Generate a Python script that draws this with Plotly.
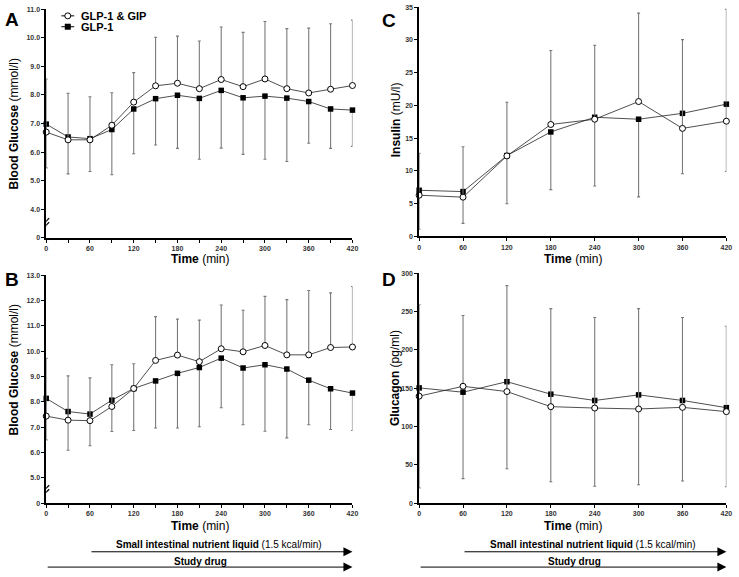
import plotly.graph_objects as go

# ---------------- data ----------------
t30 = [0, 30, 60, 90, 120, 150, 180, 210, 240, 270, 300, 330, 360, 390, 420]
t60 = [0, 60, 120, 180, 240, 300, 360, 420]

# Panel A: blood glucose (mmol/l)
A_gip = [6.70, 6.43, 6.43, 6.94, 7.75, 8.32, 8.41, 8.22, 8.54, 8.29, 8.56, 8.22, 8.07, 8.20, 8.33]
A_glp = [6.98, 6.53, 6.47, 6.79, 7.51, 7.87, 7.99, 7.88, 8.16, 7.90, 7.96, 7.89, 7.77, 7.51, 7.47]
A_upper = [8.56, 8.06, 7.94, 8.08, 8.78, 10.02, 10.06, 9.89, 10.38, 10.19, 10.57, 10.32, 10.34, 10.49, 10.62]
A_lower = [5.45, 5.24, 5.32, 5.21, 5.94, 6.25, 6.13, 5.75, 6.14, 5.92, 5.75, 5.67, 6.31, 6.13, 6.20]

# Panel B: blood glucose (mmol/l)
B_gip = [7.44, 7.28, 7.26, 7.82, 8.53, 9.64, 9.85, 9.59, 10.10, 9.98, 10.23, 9.86, 9.86, 10.15, 10.17]
B_glp = [8.14, 7.62, 7.52, 8.07, 8.53, 8.83, 9.13, 9.36, 9.73, 9.34, 9.47, 9.30, 8.86, 8.52, 8.35]
B_upper = [9.72, 9.03, 8.95, 9.47, 9.51, 11.37, 11.27, 11.23, 11.83, 11.62, 12.17, 12.04, 12.40, 12.31, 12.56]
B_lower = [6.50, 6.09, 6.27, 6.83, 6.87, 6.97, 6.97, 7.02, 7.77, 7.10, 6.84, 6.58, 7.10, 6.91, 6.87]

# Panel C: insulin (mU/l)
C_gip = [6.3, 6.0, 12.3, 17.1, 17.9, 20.6, 16.5, 17.6]
C_glp = [7.05, 6.85, 12.35, 15.96, 18.2, 17.9, 18.8, 20.2]
C_upper = [12.7, 13.7, 20.5, 28.4, 29.2, 34.1, 30.06, 34.7]
C_lower = [1.1, 2.0, 5.0, 7.15, 7.7, 6.04, 9.57, 9.92]

# Panel D: glucagon (pg/ml)
D_gip = [139.7, 152.6, 145.7, 126.0, 124.2, 123.0, 125.1, 119.5]
D_glp = [150.5, 144.9, 158.6, 142.3, 134.1, 141.4, 134.1, 124.7]
D_upper = [259, 245, 284, 254, 242.5, 254, 242.5, 231]
D_lower = [20, 32, 45, 28, 22, 24, 29, 21.5]

# tick labels
A_tickvals = [3, 4, 5, 6, 7, 8, 9, 10, 11]
A_ticktext = ["0", "4.0", "5.0", "6.0", "7.0", "8.0", "9.0", "10.0", "11.0"]
B_tickvals = [4, 5, 6, 7, 8, 9, 10, 11, 12, 13]
B_ticktext = ["0", "5.0", "6.0", "7.0", "8.0", "9.0", "10.0", "11.0", "12.0", "13.0"]
C_tickvals = [0, 5, 10, 15, 20, 25, 30, 35]
D_tickvals = [0, 50, 100, 150, 200, 250, 300]
x_tickvals30 = t30
x_ticktext30 = [str(v) if v % 60 == 0 else "" for v in t30]
x_tickvals60 = t60

legend_names = ["GLP-1 & GIP", "GLP-1"]

# ---------------- figure ----------------
W, H = 739, 577
FONT = "Liberation Sans, Arial, sans-serif"
ERRC = "#7a7a7a"

fig = go.Figure()


def px_x(p):
    return p / W


def px_y(p):
    return 1 - p / H


def add_panel(xa, ya, t, gip, glp, upper, lower):
    err_up = [u - m for u, m in zip(upper, gip)]
    err_dn = [m - l for m, l in zip(glp, lower)]
    zeros = [0] * len(t)
    fig.add_trace(go.Scatter(
        x=t, y=glp, xaxis=xa, yaxis=ya, mode="lines+markers", name=legend_names[1],
        line=dict(color="#222", width=0.8),
        marker=dict(symbol="square", size=5.5, color="black"),
        error_y=dict(type="data", symmetric=False, array=zeros, arrayminus=err_dn,
                     color=ERRC, thickness=1.1, width=1.5),
        cliponaxis=False, showlegend=False))
    fig.add_trace(go.Scatter(
        x=t, y=gip, xaxis=xa, yaxis=ya, mode="lines+markers", name=legend_names[0],
        line=dict(color="#222", width=0.8),
        marker=dict(symbol="circle", size=6, color="white", line=dict(color="black", width=1)),
        error_y=dict(type="data", symmetric=False, array=err_up, arrayminus=zeros,
                     color=ERRC, thickness=1.1, width=1.5),
        cliponaxis=False, showlegend=False))


add_panel("x", "y", t30, A_gip, A_glp, A_upper, A_lower)
add_panel("x2", "y2", t30, B_gip, B_glp, B_upper, B_lower)
add_panel("x3", "y3", t60, C_gip, C_glp, C_upper, C_lower)
add_panel("x4", "y4", t60, D_gip, D_glp, D_upper, D_lower)

tickfont = dict(family=FONT, size=7, color="#333", weight="bold")
common_x = dict(range=[0, 420], showline=True, linecolor="black", linewidth=1.5,
                ticks="outside", ticklen=3, tickwidth=1, tickcolor="black",
                showgrid=False, zeroline=False, tickfont=tickfont, ticklabelstandoff=0)
common_y = dict(showline=True, linecolor="black", linewidth=1.5,
                ticks="outside", ticklen=3, tickwidth=1, tickcolor="black",
                showgrid=False, zeroline=False, tickfont=tickfont)

left_dom = [px_x(44.7), px_x(354.3)]
right_dom = [px_x(421.7), px_x(732.3)]

fig.update_layout(
    width=W, height=H, autosize=False,
    margin=dict(l=0, r=0, t=0, b=0),
    plot_bgcolor="white", paper_bgcolor="white",
    showlegend=False,
    xaxis=dict(domain=left_dom, anchor="y", tickvals=x_tickvals30, ticktext=x_ticktext30, **common_x),
    yaxis=dict(domain=[px_y(236.7), px_y(5.3)], anchor="x", range=[3, 11],
               tickvals=A_tickvals, ticktext=A_ticktext, **common_y),
    xaxis2=dict(domain=left_dom, anchor="y2", tickvals=x_tickvals30, ticktext=x_ticktext30, **common_x),
    yaxis2=dict(domain=[px_y(505.3), px_y(274.7)], anchor="x2", range=[4, 13],
                tickvals=B_tickvals, ticktext=B_ticktext, **common_y),
    xaxis3=dict(domain=right_dom, anchor="y3", tickvals=x_tickvals60, **common_x),
    yaxis3=dict(domain=[px_y(235.3), px_y(3.3)], anchor="x3", range=[0, 35],
                tickvals=C_tickvals, **common_y),
    xaxis4=dict(domain=right_dom, anchor="y4", tickvals=x_tickvals60, **common_x),
    yaxis4=dict(domain=[px_y(505.3), px_y(272.7)], anchor="x4", range=[0, 300],
                tickvals=D_tickvals, **common_y),
)

ann = []
# panel letters
for letter, x, y in [("A", 1, 3), ("B", 1, 266), ("C", 382, 4), ("D", 382, 266)]:
    ann.append(dict(text="<b>%s</b>" % letter, x=px_x(x), y=px_y(y), xref="paper", yref="paper",
                    xanchor="left", yanchor="top", showarrow=False,
                    font=dict(family=FONT, size=19, color="black")))

# x titles
for cx, cy in [(200, 258), (200, 528), (577, 258), (577, 528)]:
    ann.append(dict(text="<b>Time</b> (min)", x=px_x(cx), y=px_y(cy), xref="paper", yref="paper",
                    xanchor="center", yanchor="middle", showarrow=False,
                    font=dict(family=FONT, size=12, color="black")))

# y titles
for txt, cx, cy in [("<b>Blood Glucose</b> (mmol/l)", 12, 121), ("<b>Blood Glucose</b> (mmol/l)", 12, 370),
                    ("<b>Insulin</b> (mU/l)", 398, 117), ("<b>Glucagon</b> (pg/ml)", 398, 379)]:
    ann.append(dict(text=txt, x=px_x(cx), y=px_y(cy), xref="paper", yref="paper",
                    xanchor="center", yanchor="middle", showarrow=False, textangle=-90,
                    font=dict(family=FONT, size=12, color="black")))

# legend text
for txt, cy in [(legend_names[0], 12), (legend_names[1], 23)]:
    ann.append(dict(text="<b>%s</b>" % txt, x=px_x(78), y=px_y(cy), xref="paper", yref="paper",
                    xanchor="left", yanchor="middle", showarrow=False,
                    font=dict(family=FONT, size=11, color="black")))

# bottom protocol arrows
for xa in ["x2", "x4"]:
    ann.append(dict(text="<b>Small intestinal nutrient liquid</b> (1.5 kcal/min)", x=237, y=px_y(547.5),
                    xref=xa, yref="paper", xanchor="center", yanchor="middle", showarrow=False,
                    font=dict(family=FONT, size=10, color="black")))
    ann.append(dict(text="<b>Study drug</b>", x=212, y=px_y(564),
                    xref=xa, yref="paper", xanchor="center", yanchor="middle", showarrow=False,
                    font=dict(family=FONT, size=10, color="black")))
    for start, yy in [(60, 554.5), (0, 570)]:
        ann.append(dict(text="", x=420, y=px_y(yy), xref=xa, yref="paper",
                        ax=start, ay=0, axref=xa, ayref="pixel",
                        showarrow=True, arrowhead=2, arrowsize=1.8, arrowwidth=1,
                        arrowcolor="black", standoff=0))

fig.update_layout(annotations=ann)

shapes = []
# legend symbols (decorative shapes)
for cy in [12, 23]:
    shapes.append(dict(type="line", xref="paper", yref="paper", x0=px_x(60), x1=px_x(73),
                       y0=px_y(cy), y1=px_y(cy), line=dict(color="black", width=1)))
shapes.append(dict(type="circle", xref="paper", yref="paper", xsizemode="pixel", ysizemode="pixel",
                   xanchor=px_x(66.5), yanchor=px_y(12), x0=-3, x1=3, y0=-3, y1=3,
                   fillcolor="white", line=dict(color="black", width=1)))
shapes.append(dict(type="rect", xref="paper", yref="paper", xsizemode="pixel", ysizemode="pixel",
                   xanchor=px_x(66.5), yanchor=px_y(23), x0=-3, x1=3, y0=-3, y1=3,
                   fillcolor="black", line=dict(color="black", width=0)))

# axis-break marks "//" on the y axes of panels A and B
for xr, yr, yb in [("x", "y", 3.55), ("x2", "y2", 4.55)]:
    for dy in (-2, 2):
        shapes.append(dict(type="line", xref=xr, yref=yr, xsizemode="pixel", ysizemode="pixel",
                           xanchor=0, yanchor=yb, x0=-3, x1=3, y0=-4 + dy, y1=2 + dy,
                           line=dict(color="black", width=1.2)))
fig.update_layout(shapes=shapes)

# remove the default 8px page margin so the 739x577 figure fills the window exactly
fig.write_html("out.html", config={"displayModeBar": False},
               post_script="document.body.style.margin='0px';")
